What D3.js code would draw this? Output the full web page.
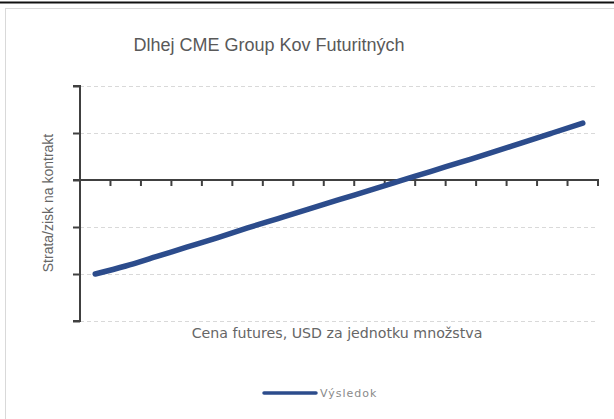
<!DOCTYPE html>
<html><head><meta charset="utf-8">
<script src="https://cdn.jsdelivr.net/npm/d3@7"></script>
<style>body{margin:0;background:#fff}svg{display:block}</style>
</head><body>
<svg id="c" width="614" height="419"></svg>
<script>
const categories = d3.range(1, 18).map(String);
const values = [-2.0, -1.83, -1.63, -1.43, -1.23, -1.02, -0.82, -0.62, -0.42, -0.22, -0.02, 0.18, 0.38, 0.58, 0.79, 1.0, 1.21];
const yTicks = [-3, -2, -1, 0, 1, 2];
const title = "Dlhej CME Group Kov Futuritných";
const yLabel = "Strata/zisk na kontrakt";
const xLabel = "Cena futures, USD za jednotku množstva";
const legendLabel = "Výsledok";

const svg = d3.select("#c");
const W = 614, H = 419;

// frame
svg.append("rect").attr("x", 5.5).attr("y", 8.5).attr("width", 620).attr("height", 420)
  .attr("fill", "#fff").attr("stroke", "#d9d9d9").attr("stroke-width", 1);
svg.append("line").attr("x1", 0).attr("x2", W).attr("y1", 2.5).attr("y2", 2.5)
  .attr("stroke", "#111").attr("stroke-width", 2);

const x = d3.scaleBand().domain(categories).range([80, 598]);
const y = d3.scaleLinear().domain([-3, 2]).range([321, 86]);

// grid
svg.append("g").selectAll("line").data(yTicks.filter(d => d !== 0)).join("line")
  .attr("x1", 80).attr("x2", 598)
  .attr("y1", d => Math.round(y(d)) + 0.5).attr("y2", d => Math.round(y(d)) + 0.5)
  .attr("stroke", "#d9d9d9").attr("stroke-width", 1).attr("stroke-dasharray", "4,3");

// y axis
const yAxis = svg.append("g").attr("transform", "translate(80,0)")
  .call(d3.axisLeft(y).tickValues(yTicks).tickSize(7).tickFormat(""));
yAxis.selectAll("path,line").attr("stroke", "#404040").attr("stroke-width", 2);
yAxis.select(".domain").attr("d", `M-7,${y(2)}H0V${y(-3)}H-7`);

// x axis at zero with ticks between categories
const xg = svg.append("g").attr("transform", `translate(0,${y(0)})`);
xg.append("line").attr("x1", 73).attr("x2", 599).attr("y1", 0).attr("y2", 0)
  .attr("stroke", "#404040").attr("stroke-width", 2);
const tickPos = categories.map(c => x(c) + x.bandwidth());
xg.selectAll("line.t").data(tickPos).join("line").attr("class", "t")
  .attr("x1", d => d).attr("x2", d => d).attr("y1", 0).attr("y2", 6)
  .attr("stroke", "#404040").attr("stroke-width", 2);

// series line
const line = d3.line().curve(d3.curveMonotoneX)
  .x((d, i) => x(categories[i]) + x.bandwidth() / 2).y(d => y(d));
svg.append("path").datum(values).attr("d", line)
  .attr("fill", "none").attr("stroke", "#2c4c8c").attr("stroke-width", 5.5)
  .attr("stroke-linecap", "round").attr("stroke-linejoin", "round");

// texts
svg.append("text").attr("x", 269).attr("y", 51).attr("text-anchor", "middle")
  .attr("font-family", "Liberation Sans, Arial, sans-serif").attr("font-size", 18)
  .attr("fill", "#595959").text(title);
svg.append("text").attr("transform", "translate(53,203) rotate(-90)").attr("text-anchor", "middle")
  .attr("font-family", "Liberation Sans, Arial, sans-serif").attr("font-size", 14)
  .attr("fill", "#666").text(yLabel);
svg.append("text").attr("x", 337).attr("y", 338).attr("text-anchor", "middle")
  .attr("font-family", "DejaVu Sans, sans-serif").attr("font-size", 14.2)
  .attr("fill", "#666").text(xLabel);

// legend
svg.append("line").attr("x1", 264).attr("x2", 316).attr("y1", 393).attr("y2", 393)
  .attr("stroke", "#2c4c8c").attr("stroke-width", 3.5).attr("stroke-linecap", "round");
svg.append("text").attr("x", 320).attr("y", 397)
  .attr("font-family", "DejaVu Sans, sans-serif").attr("font-size", 11).attr("letter-spacing", 1)
  .attr("fill", "#8a8a8a").text(legendLabel);
</script>
</body></html>
